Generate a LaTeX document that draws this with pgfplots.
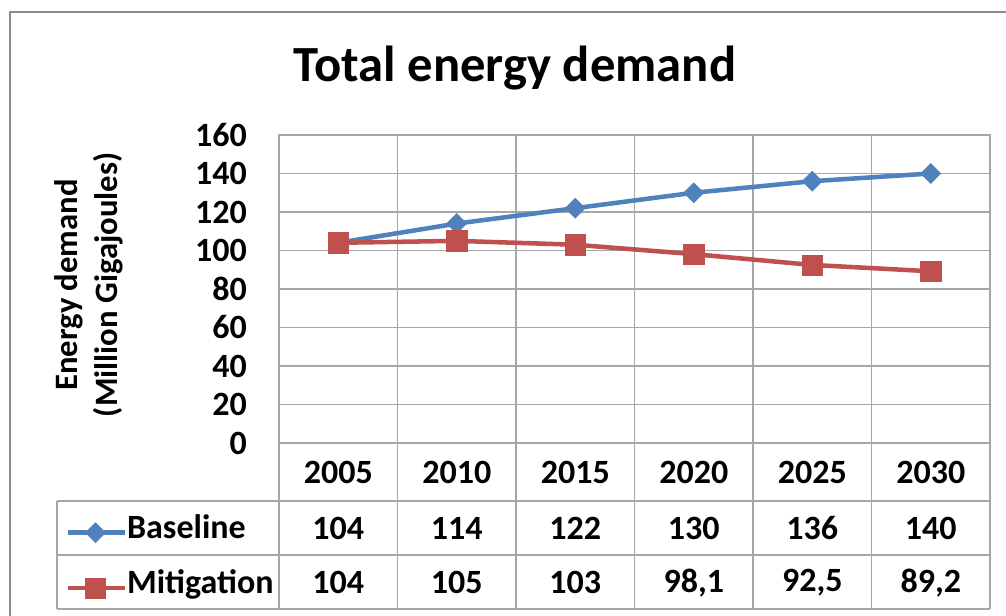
\documentclass[border=0pt]{standalone}
\usepackage{pgfplots}
\pgfplotsset{compat=1.18}
\usepackage{fontspec}
\setmainfont{Carlito}
\definecolor{xblue}{HTML}{4F81BD}
\definecolor{xred}{HTML}{C0504D}
\definecolor{gridgray}{HTML}{A6A6A6}
\definecolor{framegray}{HTML}{8C8C8C}
\tikzset{tbl/.style={font=\fontsize{25.5}{30}\selectfont\bfseries, inner sep=0pt}}
\begin{document}
\begin{tikzpicture}[x=0.75pt,y=0.75pt]
\useasboundingbox (0,0) rectangle (1006,615);
\draw[color=framegray, line width=1.8pt] (10,-20) -- (10,603) -- (1030,603);
\node[font=\fontsize{38}{44}\selectfont\bfseries] at (515,547) {Total energy demand};
\node[rotate=90, align=center, font=\fontsize{24.5}{30}\selectfont\bfseries] at (89,330) {Energy demand\\(Million Gigajoules)};
\begin{axis}[at={(209.25pt,129pt)}, anchor=south west, scale only axis,
  width=533.25pt, height=231pt,
  xmin=-0.5, xmax=5.5, ymin=0, ymax=160,
  ytick={0,20,...,160},
  xtick={0,1,2,3,4,5},
  xticklabels={2005,2010,2015,2020,2025,2030},
  minor xtick={0.5,1.5,2.5,3.5,4.5},
  ymajorgrids, xminorgrids,
  grid style={gridgray, line width=1.1pt},
  minor grid style={gridgray, line width=1.1pt},
  axis line style={gridgray, line width=1.1pt},
  tick style={draw=none},
  clip=false,
  ticklabel style={font=\fontsize{25.5}{30}\selectfont\bfseries},
  /pgf/number format/assume math mode=true,
  yticklabel style={inner sep=0pt, xshift=-24pt},
  xticklabel style={anchor=center, inner sep=0pt, yshift=-21.75pt},
  legend cell align=left,
  legend style={at={(-0.301,-0.381)}, anchor=west, draw=none, fill=none,
    inner sep=0pt, row sep=24pt,
    nodes={inner sep=0pt, text height=13pt, text depth=4.5pt,
      font=\fontsize{25.5}{30}\selectfont\bfseries}},
  legend image code/.code={\draw[mark repeat=2, mark phase=2] plot coordinates {(0pt,0pt) (21pt,0pt) (43pt,0pt)};},
]
% table grid
\draw[gridgray, line width=1.1pt] (axis cs:-2.373,-30.1) -- (axis cs:5.5,-30.1);
\draw[gridgray, line width=1.1pt] (axis cs:-2.373,-58.2) -- (axis cs:5.5,-58.2);
\draw[gridgray, line width=1.1pt] (axis cs:-2.373,-86.2) -- (axis cs:5.5,-86.2);
\draw[gridgray, line width=1.1pt] (axis cs:-2.373,-30.1) -- (axis cs:-2.373,-86.2);
\pgfplotsinvokeforeach{-0.5,0.5,1.5,2.5,3.5,4.5,5.5}{
  \draw[gridgray, line width=1.1pt] (axis cs:#1,0) -- (axis cs:#1,-86.2);
}
\addplot[xblue, line width=3.4pt, mark=square*, mark size=5.3pt,
  mark options={solid, rotate=45, line width=0.4pt, fill=xblue}]
  coordinates {(0,104) (1,114) (2,122) (3,130) (4,136) (5,140)};
\addlegendentry{Baseline}
\addplot[xred, line width=3.4pt, mark=square*, mark size=7.6pt,
  mark options={solid, line width=0.4pt, fill=xred}]
  coordinates {(0,104) (1,105) (2,103) (3,98.1) (4,92.5) (5,89.2)};
\addlegendentry{Mitigation}
% table values
\node[tbl] at (axis cs:0,-44.2) {104};
\node[tbl] at (axis cs:1,-44.2) {114};
\node[tbl] at (axis cs:2,-44.2) {122};
\node[tbl] at (axis cs:3,-44.2) {130};
\node[tbl] at (axis cs:4,-44.2) {136};
\node[tbl] at (axis cs:5,-44.2) {140};
\node[tbl] at (axis cs:0,-72.7) {104};
\node[tbl] at (axis cs:1,-72.7) {105};
\node[tbl] at (axis cs:2,-72.7) {103};
\node[tbl] at (axis cs:3,-72.7) {98,1};
\node[tbl] at (axis cs:4,-72.7) {92,5};
\node[tbl] at (axis cs:5,-72.7) {89,2};
\end{axis}
\end{tikzpicture}
\end{document}
